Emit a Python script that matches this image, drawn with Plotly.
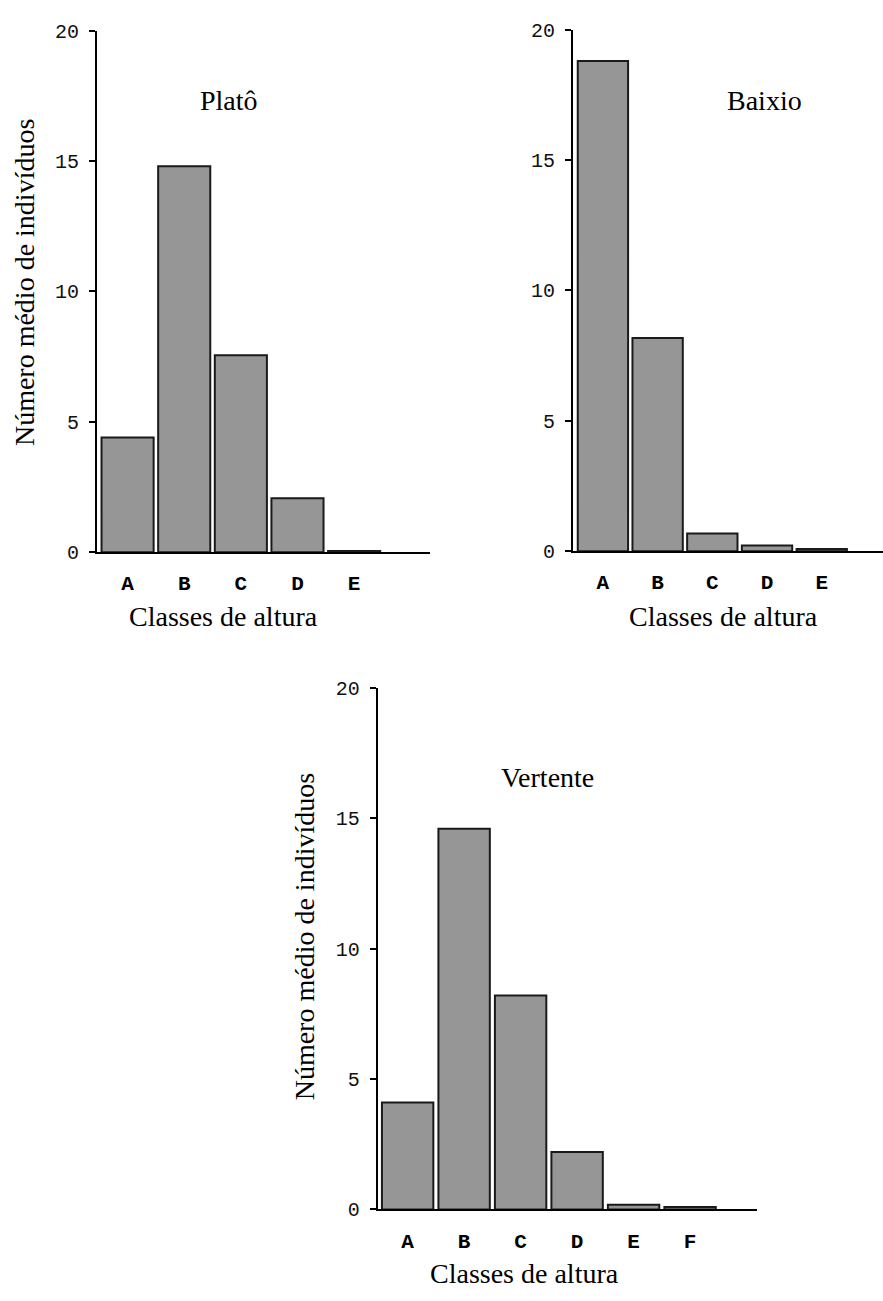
import plotly.graph_objects as go

# ---------------- data ----------------
plato_classes = ["A", "B", "C", "D", "E"]
plato_values = [4.4, 14.8, 7.55, 2.07, 0.05]

baixio_classes = ["A", "B", "C", "D", "E"]
baixio_values = [18.8, 8.18, 0.68, 0.22, 0.09]

vertente_classes = ["A", "B", "C", "D", "E", "F"]
vertente_values = [4.1, 14.6, 8.2, 2.2, 0.18, 0.09]

y_ticks = [0, 5, 10, 15, 20]
panel_titles = ["Platô", "Baixio", "Vertente"]
x_title = "Classes de altura"
y_title = "Número médio de indivíduos"

# ---------------- layout helpers ----------------
W, H = 883, 1301
def px(x):
    return x / W
def py(y):
    return 1 - y / H

BAR_FILL = "#969696"
SERIF = "Liberation Serif, Times New Roman, serif"
MONO = "Liberation Mono, Courier New, monospace"
TITLE_SIZE = 28
XTICK_SIZE = 21
YTICK_SIZE = 20

fig = go.Figure()

panels = [
    (plato_classes, plato_values, "x", "y", 0.92),
    (baixio_classes, baixio_values, "x2", "y2", 0.92),
    (vertente_classes, vertente_values, "x3", "y3", 0.91),
]
for cats, vals, xa, ya, w in panels:
    fig.add_trace(go.Bar(
        x=cats, y=vals, xaxis=xa, yaxis=ya, width=w,
        marker=dict(color=BAR_FILL, line=dict(color="#1a1a1a", width=2)),
        showlegend=False, hoverinfo="skip",
    ))

def xaxis(dom, rng):
    return dict(domain=dom, range=rng, type="category", showgrid=False,
                zeroline=False, showline=True, linecolor="black", linewidth=2,
                ticks="", tickfont=dict(family=MONO, size=XTICK_SIZE, color="black",
                                        weight="bold"),
                ticklabelstandoff=11, fixedrange=True)

def yaxis(dom, anchor):
    return dict(domain=dom, range=[0, 20], tickvals=y_ticks, showgrid=False,
                zeroline=False, showline=True, linecolor="black", linewidth=2,
                ticks="outside", ticklen=6, tickwidth=1.5, tickcolor="black",
                tickfont=dict(family=MONO, size=YTICK_SIZE, color="#111"),
                ticklabelstandoff=6, anchor=anchor, fixedrange=True)

fig.update_layout(
    width=W, height=H,
    margin=dict(l=0, r=0, t=0, b=0),
    paper_bgcolor="white", plot_bgcolor="white",
    bargap=0.08,
    xaxis=xaxis([px(97), px(430)], [-0.54, 5.34]) | dict(anchor="y"),
    yaxis=yaxis([py(552), py(21)], "x"),
    xaxis2=xaxis([px(573), 1.0], [-0.547, 5.12]) | dict(anchor="y2"),
    yaxis2=yaxis([py(551), py(20)], "x2"),
    xaxis3=xaxis([px(377.7), px(757.3)], [-0.53, 6.19]) | dict(anchor="y3"),
    yaxis3=yaxis([py(1221), py(690)], "x3"),
)

def note(text, x, y, angle=0):
    fig.add_annotation(text=text, x=px(x), y=py(y), xref="paper", yref="paper",
                       xanchor="center", yanchor="middle", showarrow=False,
                       textangle=angle,
                       font=dict(family=SERIF, size=TITLE_SIZE, color="black"))

# panel titles
note(panel_titles[0], 229, 92)
note(panel_titles[1], 764, 92)
note(panel_titles[2], 547, 781)
# x titles
note(x_title, 223, 617)
note(x_title, 723, 617)
note(x_title, 524, 1286)
# y titles
note(y_title, 24, 278, -90)
note(y_title, 304, 944, -90)

fig.write_html("out.html")
